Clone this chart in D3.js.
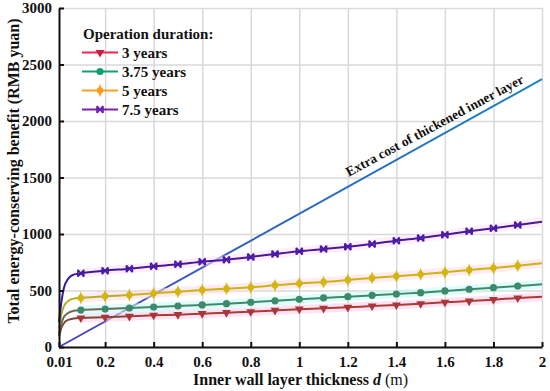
<!DOCTYPE html>
<html>
<head>
<meta charset="utf-8">
<script src="https://cdn.jsdelivr.net/npm/d3@7"></script>
<style>
  body { margin: 0; background: #fff; }
  svg { display: block; font-family: 'Liberation Serif', 'Times New Roman', serif; }
  .grid line { stroke: #d9d9d9; stroke-width: 1.5; }
  .grid .domain { display: none; }
  .axis .domain { stroke: #111; stroke-width: 2; }
  .axis line { stroke: #111; stroke-width: 2; }
  .axis text { font-family: 'Liberation Serif', 'Times New Roman', serif; font-size: 15px; font-weight: bold; fill: #111; }
</style>
</head>
<body>
<svg id="chart"></svg>
<script>
// inner wall thickness d (m) at which the curves were read
const thickness = [0.01, 0.02, 0.03, 0.05, 0.07,
  0.1, 0.2, 0.3, 0.4, 0.5, 0.6, 0.7, 0.8, 0.9, 1.0,
  1.1, 1.2, 1.3, 1.4, 1.5, 1.6, 1.7, 1.8, 1.9, 2.0]
const markerThickness = [0.1, 0.2, 0.3, 0.4, 0.5, 0.6, 0.7, 0.8, 0.9, 1.0,
  1.1, 1.2, 1.3, 1.4, 1.5, 1.6, 1.7, 1.8, 1.9]

// total energy-conserving benefit (RMB yuan)
const years3 = [95, 170, 210, 242, 252,
  257, 263, 272, 281, 286, 295, 304, 312, 324, 335,
  342, 351, 363, 372, 383, 396, 407, 419, 434, 445]
const years375 = [120, 210, 265, 305, 320,
  327, 336, 345, 354, 363, 372, 383, 396, 409, 422,
  434, 445, 457, 469, 481, 496, 511, 525, 540, 555]
const years5 = [160, 290, 360, 410, 428,
  434, 449, 460, 475, 489, 504, 516, 528, 546, 562,
  575, 593, 611, 626, 643, 661, 681, 699, 720, 741]
const years75 = [220, 400, 520, 610, 640,
  652, 675, 693, 714, 732, 755, 773, 797, 823, 848,
  867, 888, 912, 941, 965, 994, 1024, 1050, 1080, 1109]

// extra cost of thickened inner layer
const costThickness = [0.01, 2]
const costValues = [0, 2370]

const seriesNames = ['3 years', '3.75 years', '5 years', '7.5 years']
const xTickValues = [0.01, 0.2, 0.4, 0.6, 0.8, 1, 1.2, 1.4, 1.6, 1.8, 2]
const yTickValues = [0, 500, 1000, 1500, 2000, 2500, 3000]

const styles = [
  { values: years3, line: '#ad3a35', start: '#7d4a34', halo: '#ffd0ea', mark: '#a8363a', legend: '#ff1f50', legendMark: '#c81e3c', shape: 'triangle' },
  { values: years375, line: '#3c8a6c', start: '#6a6a5c', halo: '#c8fbf6', mark: '#3c8a6c', legend: '#10a070', legendMark: '#10a070', shape: 'circle' },
  { values: years5, line: '#cdb409', start: '#b2b020', halo: '#ffd8ec', mark: '#d2b60c', legend: '#ffa020', legendMark: '#ff9a1a', shape: 'diamond' },
  { values: years75, line: '#48189c', start: '#3a1aa0', halo: '#ffe0f2', mark: '#4a1aa8', legend: '#7a22a8', legendMark: '#6a20b0', shape: 'bowtie' }
]

const drawMarker = (g, shape, color) => {
  if (shape === 'triangle') {
    g.append('path')
      .attr('d', d3.symbol(d3.symbolTriangle, 34)())
      .attr('transform', 'rotate(180)')
      .attr('fill', color)
  } else if (shape === 'circle') {
    g.append('circle').attr('r', 3.6).attr('fill', color)
  } else if (shape === 'diamond') {
    g.append('circle').attr('r', 3.2).attr('fill', color)
    g.append('path')
      .attr('d', d3.symbol(d3.symbolDiamond, 30)())
      .attr('transform', 'scale(0.8,1.3)')
      .attr('fill', color)
  } else {
    g.append('path')
      .attr('d', 'M-3,-3.5L3,3.5M3,-3.5L-3,3.5M-3,-3.5V3.5M3,-3.5V3.5')
      .attr('stroke', color)
      .attr('stroke-width', 1.6)
      .attr('fill', 'none')
  }
}

const dimensions = { w: 483, h: 339 }
const margin = { top: 8, right: 8, bottom: 44, left: 59 }

const scales = {
  x: d3.scaleLinear().domain([0.01, 2]).range([0, dimensions.w]),
  y: d3.scaleLinear().domain([0, 3000]).range([dimensions.h, 0])
}

const svg = d3.select('#chart')
  .attr('width', 550)
  .attr('height', 391)

const chart = svg.append('g')
  .attr('transform', `translate(${margin.left}, ${margin.top})`)

// grid
chart.append('g')
  .attr('class', 'grid')
  .attr('transform', `translate(0, ${dimensions.h})`)
  .call(d3.axisBottom(scales.x).tickValues(xTickValues.slice(1)).tickSize(-dimensions.h).tickFormat(''))

chart.append('g')
  .attr('class', 'grid')
  .call(d3.axisLeft(scales.y).tickValues(yTickValues.slice(1)).tickSize(-dimensions.w).tickFormat(''))

// extra cost line
const defs = svg.append('defs')
const costGrad = defs.append('linearGradient')
  .attr('id', 'cost-grad')
  .attr('gradientUnits', 'userSpaceOnUse')
  .attr('x1', scales.x(costThickness[0])).attr('y1', scales.y(costValues[0]))
  .attr('x2', scales.x(costThickness[1])).attr('y2', scales.y(costValues[1]))
costGrad.append('stop').attr('offset', 0).attr('stop-color', '#4a44c2')
costGrad.append('stop').attr('offset', 0.5).attr('stop-color', '#2c68c0')
costGrad.append('stop').attr('offset', 1).attr('stop-color', '#1a84bf')

chart.append('path')
  .datum(costThickness.map((d, i) => [d, costValues[i]]))
  .attr('d', d3.line().x(d => scales.x(d[0])).y(d => scales.y(d[1])))
  .attr('fill', 'none')
  .attr('stroke', 'url(#cost-grad)')
  .attr('stroke-width', 2)

// benefit curves
const line = d3.line()
  .x(d => scales.x(d[0]))
  .y(d => scales.y(d[1]))
  .curve(d3.curveMonotoneX)

styles.forEach((s, k) => {
  const pts = thickness.map((d, i) => [d, s.values[i]])

  chart.append('path')
    .datum(pts.filter(p => p[0] >= 0.1))
    .attr('d', line)
    .attr('fill', 'none')
    .attr('stroke', s.halo)
    .attr('stroke-opacity', 0.55)
    .attr('stroke-width', 9)

  const grad = defs.append('linearGradient')
    .attr('id', `line-grad-${k}`)
    .attr('gradientUnits', 'userSpaceOnUse')
    .attr('x1', margin.left + scales.x(0.01)).attr('x2', margin.left + scales.x(0.1))
    .attr('y1', 0).attr('y2', 0)
  grad.append('stop').attr('offset', 0).attr('stop-color', s.start)
  grad.append('stop').attr('offset', 1).attr('stop-color', s.line)

  chart.append('path')
    .datum(pts)
    .attr('d', line)
    .attr('fill', 'none')
    .attr('stroke', `url(#line-grad-${k})`)
    .attr('stroke-width', 2)

  chart.append('g')
    .selectAll('g')
    .data(pts.filter(p => markerThickness.includes(p[0])))
    .join('g')
    .attr('transform', d => `translate(${scales.x(d[0])}, ${scales.y(d[1])})`)
    .each(function () { drawMarker(d3.select(this), s.shape, s.mark) })
})

// axes
chart.append('g')
  .attr('class', 'x axis')
  .attr('transform', `translate(0, ${dimensions.h})`)
  .call(d3.axisBottom(scales.x)
    .tickValues(xTickValues)
    .tickSizeInner(-5)
    .tickSizeOuter(0)
    .tickPadding(9)
    .tickFormat(d => String(d)))

chart.append('g')
  .attr('class', 'y axis')
  .call(d3.axisLeft(scales.y)
    .tickValues(yTickValues)
    .tickSizeInner(-5)
    .tickSizeOuter(0)
    .tickPadding(7)
    .tickFormat(d => String(d)))

// axis titles
const xTitle = svg.append('text')
  .attr('x', margin.left + dimensions.w / 2)
  .attr('y', 385)
  .attr('text-anchor', 'middle')
  .style('font-size', '16px')
  .style('fill', '#111')
xTitle.append('tspan').style('font-weight', 'bold').text('Inner wall layer thickness ')
xTitle.append('tspan').style('font-weight', 'bold').style('font-style', 'italic').text('d')
xTitle.append('tspan').text(' (m)')

svg.append('text')
  .attr('transform', 'translate(19, 171) rotate(-90)')
  .attr('text-anchor', 'middle')
  .style('font-size', '16px')
  .style('font-weight', 'bold')
  .style('fill', '#111')
  .text('Total energy-conserving benefit (RMB yuan)')

// annotation along the cost line
const angle = Math.atan2(
  scales.y(costValues[1]) - scales.y(costValues[0]),
  scales.x(costThickness[1]) - scales.x(costThickness[0])) * 180 / Math.PI
const annD = 1.58
const annV = costValues[1] * (annD - costThickness[0]) / (costThickness[1] - costThickness[0])
chart.append('text')
  .attr('transform', `translate(${scales.x(annD)}, ${scales.y(annV)}) rotate(${angle + 0.8})`)
  .attr('y', -7)
  .attr('text-anchor', 'middle')
  .style('font-size', '13.5px')
  .style('font-weight', 'bold')
  .style('fill', '#111')
  .text('Extra cost of thickened inner layer')

// legend
const legend = svg.append('g')
legend.append('text')
  .attr('x', 83)
  .attr('y', 39)
  .style('font-size', '15px')
  .style('font-weight', 'bold')
  .style('fill', '#111')
  .text('Operation duration:')

styles.forEach((s, i) => {
  const row = legend.append('g').attr('transform', `translate(0, ${52.5 + i * 19})`)
  row.append('line')
    .attr('x1', 82).attr('x2', 118)
    .attr('stroke', s.legend)
    .attr('stroke-width', 2)
  drawMarker(row.append('g').attr('transform', 'translate(100, 0)'), s.shape, s.legendMark)
  row.append('text')
    .attr('x', 122)
    .attr('y', 5)
    .style('font-size', '15px')
    .style('font-weight', 'bold')
    .style('fill', '#111')
    .text(seriesNames[i])
})
</script>
</body>
</html>
